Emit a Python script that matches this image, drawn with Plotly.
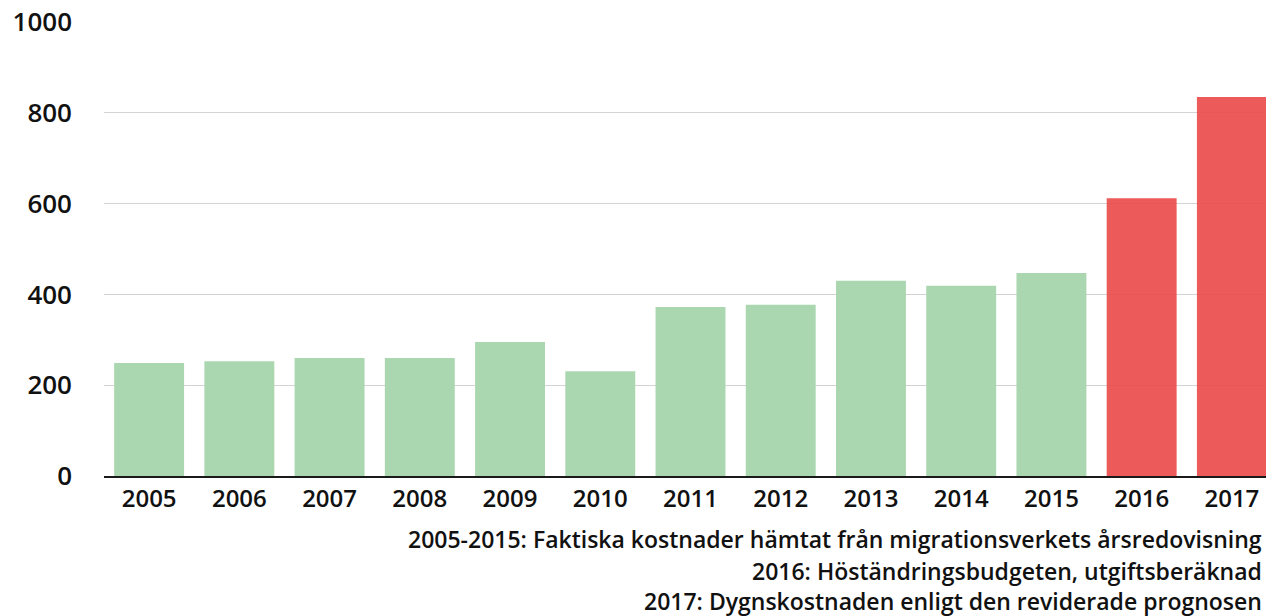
import plotly.graph_objects as go

years = ["2005", "2006", "2007", "2008", "2009", "2010", "2011", "2012",
         "2013", "2014", "2015", "2016", "2017"]
values = [249, 253, 260, 260, 295, 231, 372, 377, 430, 419, 447, 612, 835]
kinds = ["actual"] * 11 + ["forecast"] * 2
y_ticks = [0, 200, 400, 600, 800, 1000]
notes = [
    "2005-2015: Faktiska kostnader hämtat från migrationsverkets årsredovisning",
    "2016: Höständringsbudgeten, utgiftsberäknad",
    "2017: Dygnskostnaden enligt den reviderade prognosen",
]

colors = ["#abd7b0" if k == "actual" else "rgba(234,72,72,0.9)" for k in kinds]

fig = go.Figure(go.Bar(x=years, y=values, marker=dict(color=colors, line=dict(width=0))))

FONT = "Open Sans"
W, H = 1266, 616
ml, mr, mt, mb = 104, 0, 22, 140

fig.update_layout(
    width=W, height=H,
    margin=dict(l=ml, r=mr, t=mt, b=mb, pad=0),
    paper_bgcolor="white", plot_bgcolor="white",
    bargap=0.225,
    showlegend=False,
    font=dict(family=FONT, color="#111"),
)
fig.update_xaxes(
    type="category", range=[-0.5, 12.378],
    showline=True, linecolor="#1a1a1a", linewidth=2,
    showgrid=False, ticks="",
    tickfont=dict(family=FONT, size=24, color="#111", weight=600),
    ticklabelstandoff=0,
)
fig.update_yaxes(
    range=[0, 1000], tickvals=y_ticks,
    showgrid=True, gridcolor="#d3d3d3", gridwidth=1,
    zeroline=False, showline=False, ticks="",
    tickfont=dict(family=FONT, size=26, color="#111", weight=600),
    ticklabelstandoff=31,
)

ys = [539, 571, 601]
for txt, yp in zip(notes, ys):
    fig.add_annotation(
        text=txt, xref="paper", yref="paper",
        x=(1264 - ml) / (W - ml - mr), y=(H - mb - yp) / (H - mt - mb),
        xanchor="right", yanchor="middle", showarrow=False,
        font=dict(family=FONT, size=23, color="#111", weight=600),
    )

fig.write_html(
    "out.html",
    config={"displayModeBar": False},
    post_script="document.body.style.margin='0';document.body.style.overflow='hidden';",
)
